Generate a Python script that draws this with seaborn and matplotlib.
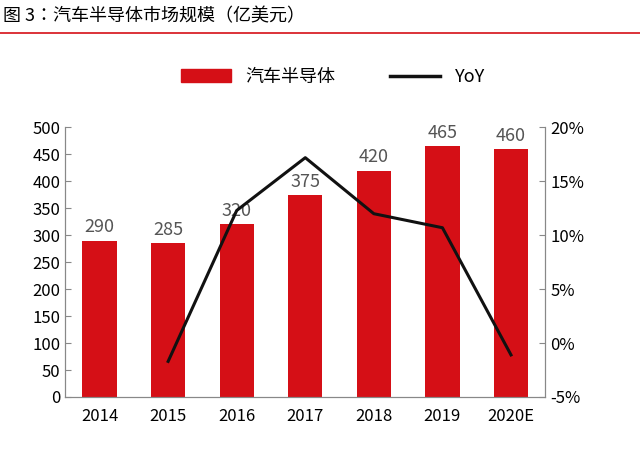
import matplotlib
matplotlib.use("Agg")
import matplotlib.pyplot as plt
from matplotlib import font_manager
import seaborn as sns
import pandas as pd
from matplotlib.ticker import FuncFormatter, MultipleLocator
from matplotlib.lines import Line2D
from matplotlib.patches import Patch

cjk = [f.name for f in font_manager.fontManager.ttflist if "CJK" in f.name]
pref = [n for n in ["Noto Sans CJK SC", "Noto Sans CJK JP"] if n in cjk] or cjk[:1]
plt.rcParams["font.family"] = "sans-serif"
plt.rcParams["font.sans-serif"] = pref + ["DejaVu Sans"]

years = ["2014", "2015", "2016", "2017", "2018", "2019", "2020E"]
market = [290, 285, 320, 375, 420, 465, 460]
yoy = [None, -1.7, 12.3, 17.2, 12.0, 10.7, -1.1]

df = pd.DataFrame({"year": years, "market": market, "yoy": yoy})
red = "#D50F16"

fig = plt.figure(figsize=(6.4, 4.67), dpi=100)
ax = fig.add_axes([0.102, 0.15, 0.75, 0.577])
sns.barplot(data=df, x="year", y="market", color=red, width=0.5, ax=ax, saturation=1)
ax.set_ylim(0, 500)
ax.yaxis.set_major_locator(MultipleLocator(50))
ax.set_xlabel(""); ax.set_ylabel("")
for i, v in enumerate(market):
    ax.text(i, v + 8, str(v), ha="center", va="bottom", fontsize=13, color="#555555")
ax2 = ax.twinx()
sns.lineplot(x=list(range(len(years))), y=yoy, color="#111111", linewidth=2.2, ax=ax2)
ax2.set_ylim(-5, 20)
ax2.yaxis.set_major_locator(MultipleLocator(5))
ax2.yaxis.set_major_formatter(FuncFormatter(lambda v, p: f"{v:.0f}%"))
ax.set_xlim(-0.5, 6.5)
for a in (ax, ax2):
    a.spines["top"].set_visible(False)
    a.tick_params(labelsize=12, length=0)
for s in ["left", "right", "bottom"]:
    ax2.spines[s].set_color("#888888")
    ax.spines[s].set_color("#888888")
ax2.tick_params(axis="y", direction="in", length=4, color="#888888")
ax.tick_params(axis="y", direction="in", length=4, color="#888888")
ax.tick_params(axis="x", pad=8)

fig.legend(handles=[Patch(color=red, label="汽车半导体"),
                    Line2D([], [], color="#111111", lw=2.5, label="YoY")],
           loc="center", bbox_to_anchor=(0.52, 0.835), ncol=2, frameon=False,
           fontsize=13, handlelength=2.8, columnspacing=3)
fig.text(0.005, 0.965, "图 3：汽车半导体市场规模（亿美元）", fontsize=13, va="center", ha="left")
fig.add_artist(Line2D([0, 1], [0.93, 0.93], color=red, lw=1.2, transform=fig.transFigure))
fig.savefig("out.png", dpi=100)
